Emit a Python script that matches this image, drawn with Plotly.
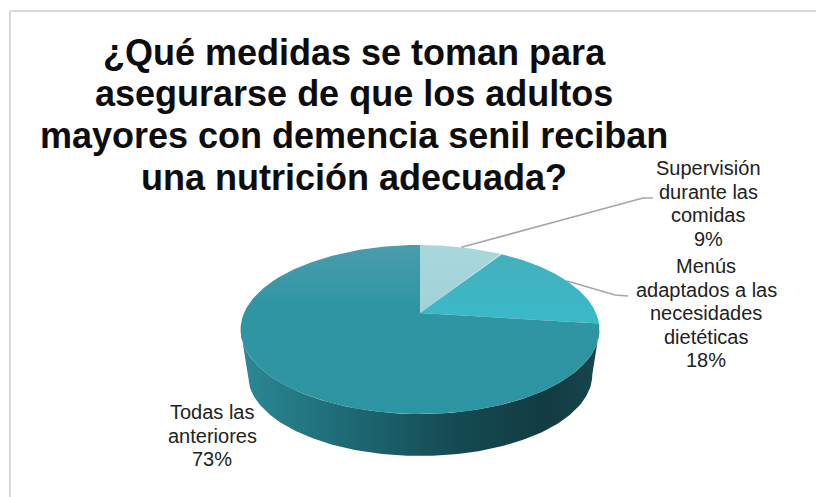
import numpy as np
import plotly.graph_objects as go

# Survey shares, clockwise from twelve o'clock
categories = ["Supervisión durante las comidas", "Menús adaptados a las necesidades dietéticas", "Todas las anteriores"]
values = [9, 18, 73]
label_lines = [
    ["Supervisión", "durante las", "comidas"],
    ["Menús", "adaptados a las", "necesidades", "dietéticas"],
    ["Todas las", "anteriores"],
]
title_lines = [
    "¿Qué medidas se toman para",
    "asegurarse de que los adultos",
    "mayores con demencia senil reciban",
    "una nutrición adecuada?",
]

# Tilted disc: a circle seen in perspective, in page pixels
CX, CY = 420.0, 313.0
R = 176.0
DEPTH_C = 81.3
PERSP = 0.195
# Vertical gradients run from the bottom of a shape (0) to its top (1)
TOP_FILLS = [
    [[0, "#a0d2d7"], [1, "#a9d8dc"]],
    [[0, "#39bac9"], [1, "#45afbd"]],
    [[0, "#2d94a2"], [0.65, "#3095a3"], [1, "#4a9dac"]],
]


def rim(theta, r=R, c=DEPTH_C, cy=CY):
    """Project a disc angle (radians, clockwise from the top) onto the page."""
    xs, ys = np.sin(theta), np.cos(theta)
    d = 1 + PERSP * ys
    return CX + r * xs / d, cy - c * ys / d


fig = go.Figure()

# Side wall of the disc, between its two silhouette angles
edge = np.arccos(-PERSP)
wall = np.linspace(edge, 2 * np.pi - edge, 160)
x_top, y_top = rim(wall)
x_bot, y_bot = rim(wall, r=R * 0.96, c=DEPTH_C * 0.96, cy=359.0)
fig.add_trace(go.Scatter(
    x=np.r_[x_top, x_bot[::-1]], y=np.r_[y_top, y_bot[::-1]],
    mode="lines", line=dict(width=0), fill="toself",
    fillgradient=dict(type="horizontal", colorscale=[
        [0, "#2c8995"], [0.12, "#257c88"], [0.38, "#1b616c"],
        [0.6, "#154a52"], [0.85, "#123b42"], [1, "#17464d"],
    ]),
    hoverinfo="skip", showlegend=False,
))

# Top face slices, drawn from the shares
bounds = np.cumsum([0] + values) / sum(values) * 2 * np.pi
for i, name in enumerate(categories):
    t = np.linspace(bounds[i], bounds[i + 1], 200)
    rx, ry = rim(t)
    fig.add_trace(go.Scatter(
        x=np.r_[CX, rx, CX], y=np.r_[CY, ry, CY],
        mode="lines", line=dict(width=0), fill="toself",
        fillgradient=dict(type="vertical", colorscale=TOP_FILLS[i]),
        name=name, hoverinfo="name", showlegend=False,
    ))

# Leader lines run from the middle of a slice's rim to its label
mids = (bounds[:-1] + bounds[1:]) / 2
leader_stops = [[(643, 198), (653, 198)], [(615, 295), (628, 296)]]
for mid, stops in zip(mids, leader_stops):
    sx, sy = rim(mid)
    fig.add_trace(go.Scatter(
        x=[sx] + [p[0] for p in stops], y=[sy] + [p[1] for p in stops],
        mode="lines", line=dict(color="#a6a6a6", width=1.6),
        hoverinfo="skip", showlegend=False,
    ))


def text_line(x, y, text, size, color):
    return dict(x=x, y=y, xref="x", yref="y", showarrow=False, text=text,
                font=dict(family="Liberation Sans, Arial", size=size, color=color))


annotations = []

# Category labels with their percentages, one line at a time for tight leading
label_tops = [(708, 168), (706, 266), (212, 412)]
LEADING = 23.5
for (px, py), lines, v in zip(label_tops, label_lines, values):
    for n, line in enumerate(lines + [f"{v}%"]):
        annotations.append(text_line(px, py + n * LEADING, line, 20, "#222222"))

# Title
for n, line in enumerate(title_lines):
    annotations.append(text_line(354, 52 + n * 41.7, f"<b>{line}</b>", 36, "#0d0d0d"))

# Chart frame: only the left and top edges fall inside the page
frame = dict(type="line", xref="x", yref="y", line=dict(color="#d9d9d9", width=2), layer="below")
shapes = [
    dict(frame, x0=10, x1=10, y0=11, y1=497),
    dict(frame, x0=10, x1=816, y0=11, y1=11),
]

hidden_axis = dict(visible=False, fixedrange=True)
fig.update_layout(
    width=816, height=497,
    margin=dict(l=0, r=0, t=0, b=0),
    paper_bgcolor="white", plot_bgcolor="white",
    xaxis=dict(hidden_axis, range=[0, 816]),
    yaxis=dict(hidden_axis, range=[497, 0]),
    annotations=annotations, shapes=shapes,
)
fig.write_html("out.html", config=dict(displayModeBar=False))
